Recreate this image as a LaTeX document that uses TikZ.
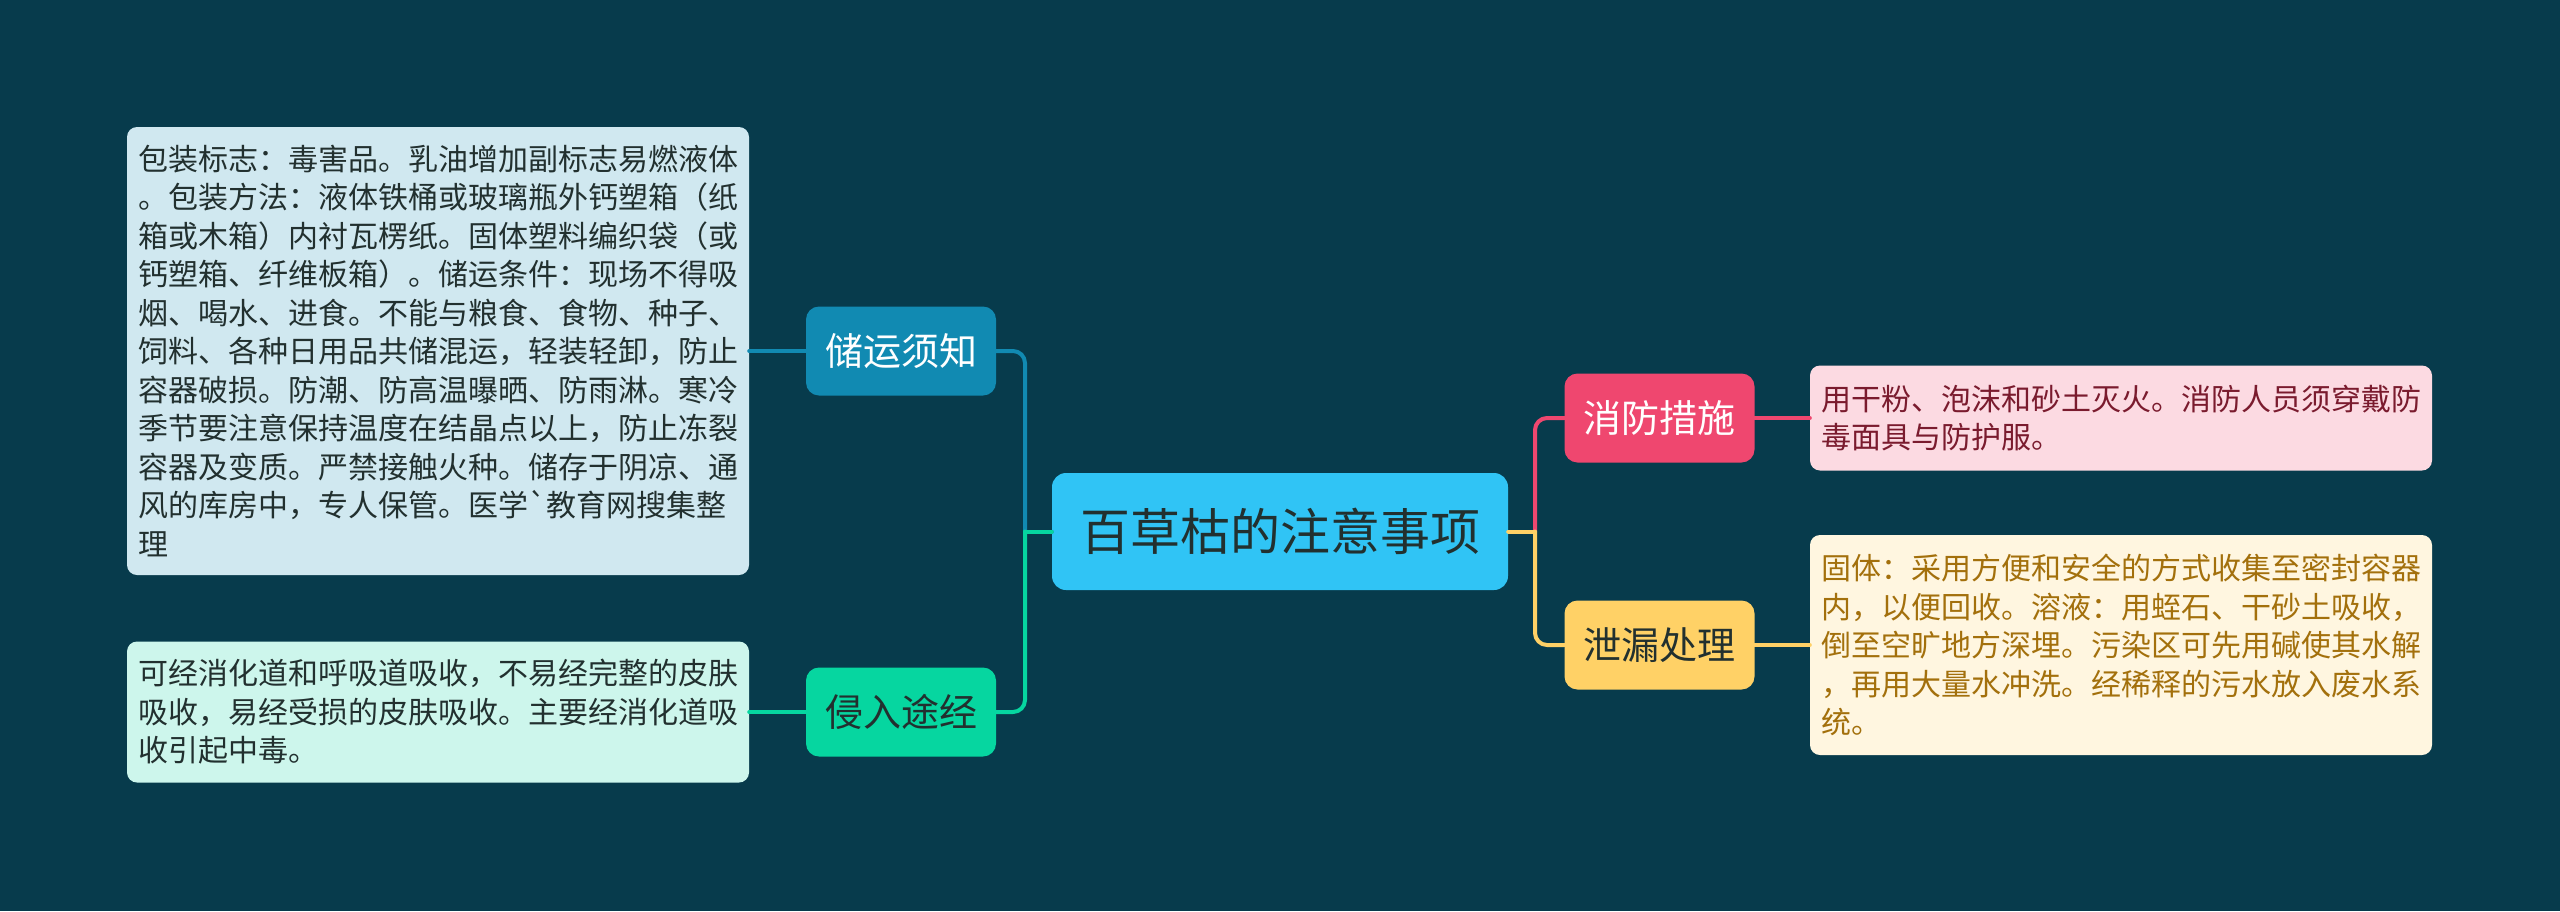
\documentclass[tikz,border=0pt]{standalone}
\usepackage{fontspec}
\setmainfont{Noto Sans CJK SC}[Ligatures=TeXOff]
\usepackage{xcolor}
\definecolor{bgteal}{HTML}{073B4C}
\definecolor{mainblue}{HTML}{30C4F5}
\definecolor{cblue}{HTML}{118AB2}
\definecolor{cgreen}{HTML}{06D6A0}
\definecolor{cpink}{HTML}{EF476F}
\definecolor{cyellow}{HTML}{FFD166}
\definecolor{leafblue}{HTML}{D0E8F0}
\definecolor{leafgreen}{HTML}{CDF6EC}
\definecolor{leafpink}{HTML}{FCDAE2}
\definecolor{leafyellow}{HTML}{FFF6E0}
\definecolor{darktext}{HTML}{22302F}
\definecolor{pinktext}{HTML}{7A1B2E}
\definecolor{yellowtext}{HTML}{A3700C}

\begin{document}
\begin{tikzpicture}
			[line cap=round,line join=round,x=1pt,y=-1pt,
			wire/.style={line width=4pt},
			topic/.style={rounded corners=13pt,inner sep=0pt,minimum width=190pt,minimum height=89pt,font=\fontsize{38}{44}\selectfont},
			leaf/.style={rounded corners=10pt,text width=600pt,inner xsep=11pt,inner ysep=0pt,align=left,font=\fontsize{30}{38.5}\selectfont}]
			\useasboundingbox (0,0) rectangle (2560,911);
			\fill[bgteal] (0,0) rectangle (2560,911);
			\node[fill=mainblue,text=darktext,rounded corners=14pt,inner sep=0pt,minimum width=456pt,minimum height=117pt,font=\fontsize{50}{56}\selectfont] (main) at (1280,531.5) {百草枯的注意事项};
			\node[topic,fill=cblue,text=white] (chuyun) at (901,351) {储运须知};
			\node[topic,fill=cgreen,text=darktext] (qinru) at (901,712) {侵入途经};
			\node[topic,fill=cpink,text=white] (xiaofang) at (1659.5,418) {消防措施};
			\node[topic,fill=cyellow,text=darktext] (xielou) at (1659.5,645) {泄漏处理};
			\node[leaf,fill=leafblue,text=darktext,minimum height=448pt] (chuyunleaf) at (438,351) {包装标志：毒害品。乳油增加副标志易燃液体\\。包装方法：液体铁桶或玻璃瓶外钙塑箱（纸\\箱或木箱）内衬瓦楞纸。固体塑料编织袋（或\\钙塑箱、纤维板箱）。储运条件：现场不得吸\\烟、喝水、进食。不能与粮食、食物、种子、\\饲料、各种日用品共储混运，轻装轻卸，防止\\容器破损。防潮、防高温曝晒、防雨淋。寒冷\\季节要注意保持温度在结晶点以上，防止冻裂\\容器及变质。严禁接触火种。储存于阴凉、通\\风的库房中，专人保管。医学`教育网搜集整\\理};
			\node[leaf,fill=leafgreen,text=darktext,minimum height=141pt] (qinruleaf) at (438,712) {可经消化道和呼吸道吸收，不易经完整的皮肤\\吸收，易经受损的皮肤吸收。主要经消化道吸\\收引起中毒。};
			\node[leaf,fill=leafpink,text=pinktext,minimum height=105pt] (xiaofangleaf) at (2121,418) {用干粉、泡沫和砂土灭火。消防人员须穿戴防\\毒面具与防护服。};
			\node[leaf,fill=leafyellow,text=yellowtext,minimum height=220pt] (xielouleaf) at (2121,645) {固体：采用方便和安全的方式收集至密封容器\\内，以便回收。溶液：用蛭石、干砂土吸收，\\倒至空旷地方深埋。污染区可先用碱使其水解\\，再用大量水冲洗。经稀释的污水放入废水系\\统。};
			\coordinate (ljoin) at (1025,531.5);
			\coordinate (rjoin) at (1535,531.5);
			\draw[wire,cblue] (main.west) -- (ljoin);
			\draw[wire,cblue,rounded corners=12pt] (ljoin) |- (chuyun.east);
			\draw[wire,cgreen,rounded corners=12pt] (ljoin) |- (qinru.east);
			\draw[wire,cgreen] (main.west) -- (ljoin);
			\draw[wire,cpink,rounded corners=12pt] (rjoin) |- (xiaofang.west);
			\draw[wire,cyellow,rounded corners=12pt] (rjoin) |- (xielou.west);
			\draw[wire,cyellow] (main.east) -- (rjoin);
			\draw[wire,cblue] (chuyun.west) -- (chuyunleaf.east);
			\draw[wire,cgreen] (qinru.west) -- (qinruleaf.east);
			\draw[wire,cpink] (xiaofang.east) -- (xiaofangleaf.west);
			\draw[wire,cyellow] (xielou.east) -- (xielouleaf.west);
		\end{tikzpicture}
\end{document}
